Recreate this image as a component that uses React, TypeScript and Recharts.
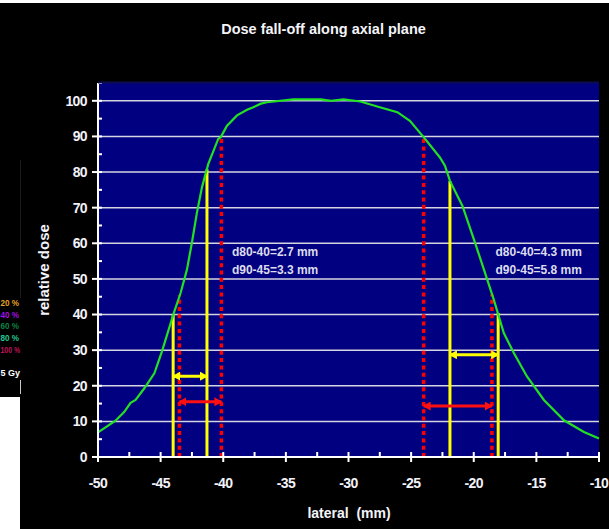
import React from 'react';
import { ComposedChart, Line, XAxis, YAxis, ReferenceArea, ReferenceLine, ReferenceDot } from 'recharts';

// measured dose profile (lateral position in mm, relative dose in %)
const lateralMm = [
  -50, -48.6, -47.9, -47.4, -47.0, -46.3, -45.5, -44.9, -43.95, -43.4, -42.9, -42.5, -42.1, -41.7, -41.2,
  -40.4, -40.2, -39.7, -38.9, -38.1, -37.6, -37.0, -36.5, -34.4, -32.2, -31.4, -30.4, -29.05, -27.5, -26.1,
  -25.1, -24.0, -22.7, -22.3, -21.9, -20.9, -19.9, -19.1, -18.4, -17.6, -16.8, -15.75, -14.4, -12.8, -11.2, -10,
];
const relativeDose = [
  6.9, 10.2, 12.7, 15.2, 16.0, 19.3, 23.5, 29.6, 40.4, 46.1, 52.6, 60.2, 68.6, 75.7, 82.2,
  89.3, 89.8, 93.0, 95.9, 97.5, 98.2, 99.2, 99.6, 100.4, 100.4, 100.0, 100.4, 99.8, 98.2, 96.8,
  94.4, 89.8, 84.1, 81.8, 77.5, 70.5, 60.2, 51.7, 44.2, 34.8, 29.2, 22.6, 16.0, 10.3, 7.0, 5.2,
];

const xTicks = [-50, -47.5, -45, -42.5, -40, -37.5, -35, -32.5, -30, -27.5, -25, -22.5, -20, -17.5, -15, -12.5, -10];
const yTicks = [0, 5, 10, 15, 20, 25, 30, 35, 40, 45, 50, 55, 60, 65, 70, 75, 80, 85, 90, 95, 100, 105];
const gridLevels = [10, 20, 30, 40, 50, 60, 70, 80, 90, 100];

// d80 / d40 positions (yellow) and d90 / d45 positions (red dotted)
const yellowX = [-44.0, -41.3, -21.9, -18.05];
const yellowTop = [40, 80.8, 77.5, 40.4];
const redX = [-43.5, -40.15, -24.0, -18.55];
const redTop = [45.4, 90, 90, 45.6];

// distance arrows: [from, to, level]
const yellowArrows = [[-44.0, -41.3, 22.7], [-21.9, -18.05, 28.7]];
const redArrows = [[-43.5, -40.15, 15.5], [-24.0, -18.55, 14.3]];

const notesLeft = ['d80-40=2.7 mm', 'd90-45=3.3 mm'];
const notesRight = ['d80-40=4.3 mm', 'd90-45=5.8 mm'];
const noteLevels = [57.6, 52.6];

const legendLabels = ['20 %', '40 %', '60 %', '80 %', '100 %'];
const legendColors = ['#e8a020', '#a010e0', '#108040', '#20c890', '#c0105a'];

const data = lateralMm.map((x, i) => ({ x, dose: relativeDose[i] }));

const FONT = '"Liberation Sans", Arial, sans-serif';
const tickText = { fill: '#f2f2fa', fontSize: 14, fontWeight: 700, fontFamily: FONT, letterSpacing: -0.6 };

const XTick = (props: any) => {
  const { x, y, payload } = props;
  const v = payload.value;
  const major = Math.abs(v % 5) < 1e-6;
  return (
    <g>
      <line x1={x} x2={x} y1={y - 5} y2={major ? y + 5 : y} stroke="#fff" strokeWidth={2} />
      {major && (
        <text x={x} y={y + 26} textAnchor="middle" dy="0.35em" {...tickText}>
          {v}
        </text>
      )}
    </g>
  );
};

const YTick = (props: any) => {
  const { x, y, payload } = props;
  const v = payload.value;
  const major = v % 10 === 0;
  return (
    <g>
      <line x1={major ? x - 6 : x} x2={x + 4} y1={y} y2={y} stroke="#fff" strokeWidth={2} />
      {major && (
        <text x={x - 11} y={y} textAnchor="end" dy="0.35em" {...tickText}>
          {v}
        </text>
      )}
    </g>
  );
};

const arrowShape = (marker: string, color: string) => (p: any) => (
  <line
    x1={p.x1}
    y1={p.y1}
    x2={p.x2}
    y2={p.y2}
    stroke={color}
    strokeWidth={3}
    markerStart={`url(#${marker})`}
    markerEnd={`url(#${marker})`}
  />
);

const noteShape = (text: string) => (p: any) => (
  <text x={p.cx} y={p.cy} dy="0.35em" fill="#dcdcec" fontSize={12} fontWeight={700} fontFamily={FONT}>
    {text}
  </text>
);

export default function App() {
  return (
    <div style={{ position: 'fixed', left: 0, top: 0, width: 609, height: 529, background: '#000', overflow: 'hidden' }}>
      <svg width={0} height={0} style={{ position: 'absolute' }}>
        <defs>
          <marker id="arrowYellow" markerWidth={8} markerHeight={9} refX={7} refY={4.5} orient="auto-start-reverse" markerUnits="userSpaceOnUse">
            <path d="M0,0 L8,4.5 L0,9 z" fill="#ffff00" />
          </marker>
          <marker id="arrowRed" markerWidth={8} markerHeight={9} refX={7} refY={4.5} orient="auto-start-reverse" markerUnits="userSpaceOnUse">
            <path d="M0,0 L8,4.5 L0,9 z" fill="#ff1010" />
          </marker>
        </defs>
      </svg>

      <ComposedChart width={609} height={529} data={data} margin={{ top: 83, right: 10, bottom: 42, left: 38 }}>
        <ReferenceArea x1={-50} x2={-10} y1={0} y2={105} fill="#000080" fillOpacity={1} stroke="none" />
        {gridLevels.map((g) => (
          <ReferenceLine key={`g${g}`} y={g} stroke="#d4d4e2" strokeWidth={1.5} />
        ))}
        <XAxis
          dataKey="x"
          type="number"
          domain={[-50, -10]}
          ticks={xTicks}
          interval={0}
          tickSize={0}
          tickMargin={0}
          height={30}
          tick={<XTick />}
          axisLine={{ stroke: '#fff', strokeWidth: 2 }}
          tickLine={false}
        />
        <YAxis
          type="number"
          domain={[0, 105]}
          ticks={yTicks}
          interval={0}
          tickSize={0}
          tickMargin={0}
          width={60}
          tick={<YTick />}
          axisLine={{ stroke: '#fff', strokeWidth: 2 }}
          tickLine={false}
        />
        {yellowX.map((x, i) => (
          <ReferenceLine
            key={`y${i}`}
            segment={[{ x, y: 0 }, { x, y: yellowTop[i] }]}
            stroke="#ffff00"
            strokeWidth={3}
          />
        ))}
        {redX.map((x, i) => (
          <ReferenceLine
            key={`r${i}`}
            segment={[{ x, y: 0 }, { x, y: redTop[i] }]}
            stroke="#ff0000"
            strokeWidth={3.5}
            strokeDasharray="4 3.3"
          />
        ))}
        {yellowArrows.map(([a, b, lvl], i) => (
          <ReferenceLine
            key={`ya${i}`}
            segment={[{ x: a, y: lvl }, { x: b, y: lvl }]}
            shape={arrowShape('arrowYellow', '#ffff00')}
          />
        ))}
        {redArrows.map(([a, b, lvl], i) => (
          <ReferenceLine
            key={`ra${i}`}
            segment={[{ x: a, y: lvl }, { x: b, y: lvl }]}
            shape={arrowShape('arrowRed', '#ff1010')}
          />
        ))}
        <Line
          dataKey="dose"
          type="linear"
          stroke="#22e022"
          strokeWidth={2.2}
          dot={false}
          isAnimationActive={false}
        />
        {notesLeft.map((t, i) => (
          <ReferenceDot key={`nl${i}`} x={-39.31} y={noteLevels[i]} r={0} shape={noteShape(t)} />
        ))}
        {notesRight.map((t, i) => (
          <ReferenceDot key={`nr${i}`} x={-18.26} y={noteLevels[i]} r={0} shape={noteShape(t)} />
        ))}
      </ComposedChart>

      <svg width={609} height={529} style={{ position: 'absolute', left: 0, top: 0, pointerEvents: 'none' }}>
        <rect x={0} y={0} width={609} height={3} fill="#fff" />
        <line x1={98} x2={599} y1={82.5} y2={82.5} stroke="#0c0c50" strokeWidth={2} />
        <text x={323.5} y={29} textAnchor="middle" dy="0.35em" fill="#f4f4fa" fontSize={14.5} fontWeight={700} fontFamily={FONT}>
          Dose fall-off along axial plane
        </text>
        <text
          x={44}
          y={270}
          transform="rotate(-90 44 270)"
          textAnchor="middle"
          dy="0.35em"
          fill="#f4f4fa"
          fontSize={15}
          fontWeight={700}
          fontFamily={FONT}
        >
          relative dose
        </text>
        <text x={349} y={513} textAnchor="middle" dy="0.35em" fill="#f4f4fa" fontSize={14} fontWeight={700} fontFamily={FONT} style={{ whiteSpace: 'pre' }}>
          {'lateral  (mm)'}
        </text>
        <line x1={20.5} x2={20.5} y1={160} y2={298} stroke="#1c1c1c" strokeWidth={1} />
        {legendLabels.map((t, i) => (
          <text
            key={t}
            x={0.5}
            y={303 + i * 11.7}
            dy="0.35em"
            fill={legendColors[i]}
            fontSize={8.5}
            fontWeight={700}
            fontFamily={FONT}
            textLength={t.length > 4 ? 19.5 : 18.5}
            lengthAdjust="spacingAndGlyphs"
          >
            {t}
          </text>
        ))}
        <text x={0.5} y={373} dy="0.35em" fill="#fff" fontSize={9} fontWeight={700} fontFamily={FONT}>
          5 Gy
        </text>
        <line x1={20.5} x2={20.5} y1={380} y2={394} stroke="#c8c8c8" strokeWidth={1} />
        <rect x={0} y={397} width={20} height={132} fill="#fff" />
      </svg>
    </div>
  );
}
